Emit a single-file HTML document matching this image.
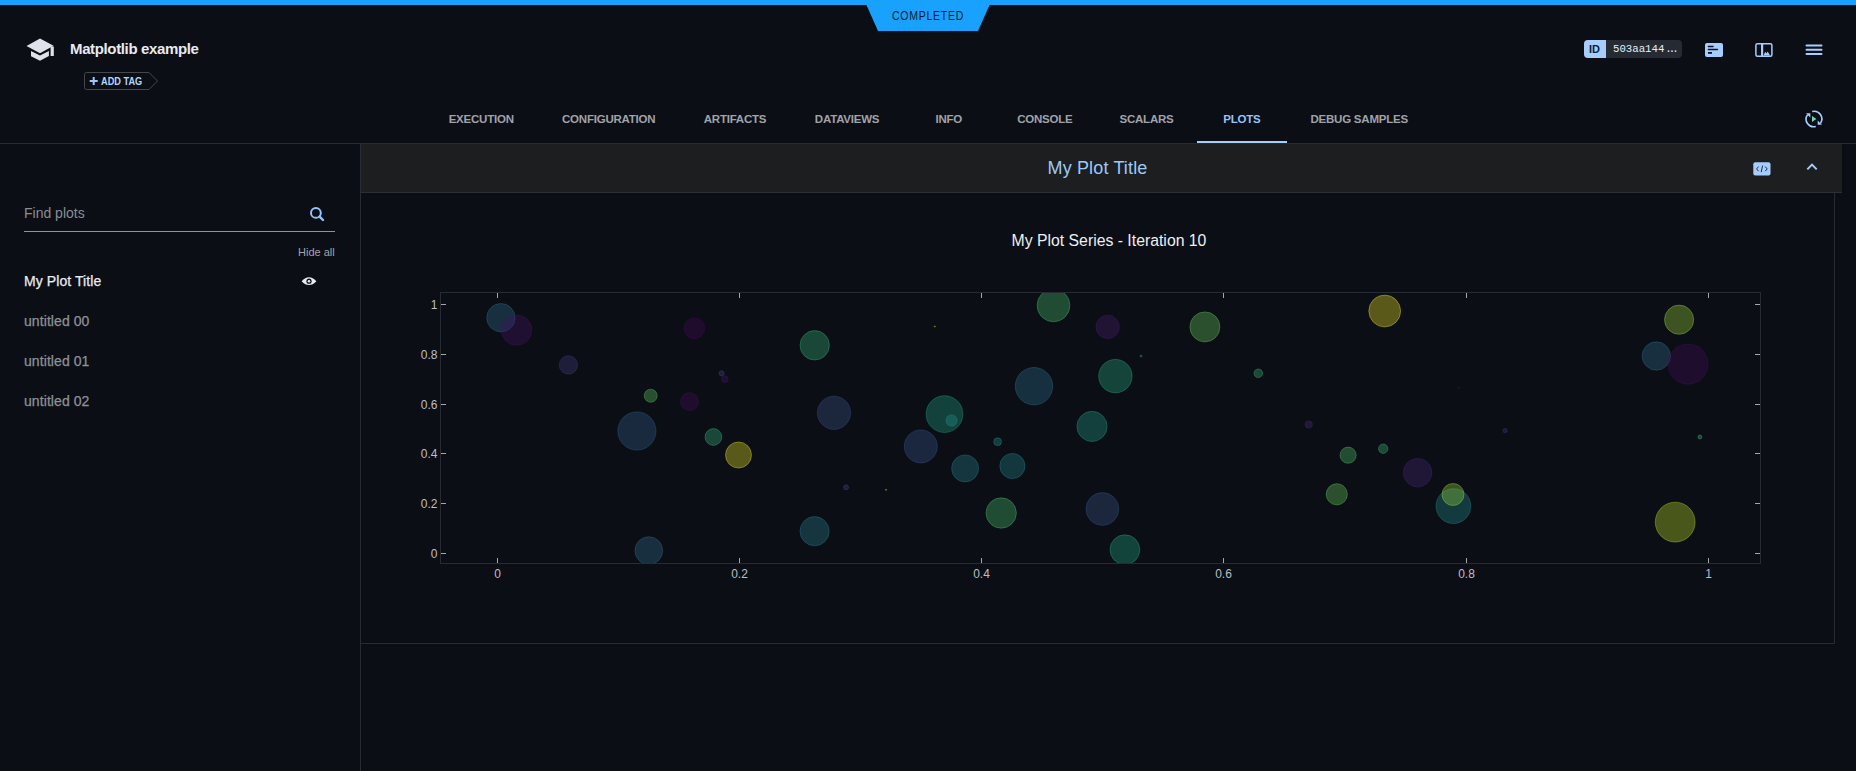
<!DOCTYPE html>
<html><head><meta charset="utf-8"><title>Matplotlib example</title>
<style>
*{box-sizing:border-box;margin:0;padding:0}
html,body{width:1856px;height:771px;overflow:hidden;background:#0b0e15;font-family:"Liberation Sans",sans-serif;color:#e6e7ea}
.abs{position:absolute}
#topbar{left:0;top:0;width:1856px;height:5px;background:#19a2fd}
#badge{left:866px;top:4px;width:124px;height:27px;background:#19a2fd;clip-path:polygon(0 0,100% 0,90.3% 100%,9.7% 100%)}
#badge span{position:absolute;left:0;width:124px;top:5px;text-align:center;font-size:12px;line-height:14px;color:#0c1a2c;letter-spacing:0.8px;transform:scaleX(0.88)}
#title{left:70px;top:40px;font-size:15px;letter-spacing:-0.36px;font-weight:bold;color:#e9eaef;line-height:18px;white-space:nowrap}
#addtag{left:84px;top:72px}
#addtag span{position:absolute;left:17px;top:4px;font-size:10px;font-weight:bold;color:#b4d4fa;line-height:12px;white-space:nowrap;transform:scaleX(0.92);transform-origin:0 0}
#idb{left:1584px;top:40px;width:98px;height:18px;border-radius:4px;background:#262a33;overflow:hidden}
#idb .l{position:absolute;left:0;top:0;width:22px;height:18px;background:#a6cdfd}
#idb .l span{position:absolute;left:5px;top:4px;font-size:11px;font-weight:bold;color:#0a2140;line-height:11px}
#idb .r{position:absolute;left:29px;top:3px;font-family:"Liberation Mono",monospace;font-size:10.7px;color:#eceef2;line-height:12px;white-space:nowrap}
.tab{position:absolute;top:112.6px;width:200px;text-align:center;font-size:11.5px;letter-spacing:-0.22px;font-weight:bold;color:#a0a3a8;line-height:13px;white-space:nowrap}
.tab.act{color:#95c4fb}
#uline{left:1197px;top:141px;width:90px;height:2px;background:#a5cef8}
#hline{left:0;top:143px;width:1856px;height:1px;background:#272b33}
#side{left:360px;top:144px;width:1px;height:627px;background:#272b33}
#find{left:24px;top:205px;font-size:14px;color:#8a8d93;line-height:16px}
#findline{left:24px;top:231px;width:311px;height:1px;background:#8f9298}
#hideall{left:298px;top:246px;font-size:11px;color:#a3a6ab;line-height:13px}
.item{position:absolute;left:24px;font-size:14px;color:#8e9196;line-height:16px;white-space:nowrap;-webkit-text-stroke:0.25px currentColor;letter-spacing:0.08px}
.item.act{color:#eaebee}
#phead{left:361px;top:144px;width:1481px;height:48px;background:#1d1e20}
#pheadb{left:361px;top:192px;width:1481px;height:1px;background:#2b2f37}
#ptitle{left:1047.5px;top:158px;font-size:18px;letter-spacing:0.15px;color:#9cc8fb;line-height:21px;white-space:nowrap}
#pbr{left:1834px;top:193px;width:1px;height:451px;background:#272b33}
#pbb{left:361px;top:643px;width:1474px;height:1px;background:#272b33}
#series{left:1011.5px;top:231.7px;font-size:15.8px;color:#eef0f3;line-height:18px;white-space:nowrap}
svg text{font-family:"Liberation Sans",sans-serif;font-size:12px;fill:#bcbfc4}
</style></head><body>
<div class="abs" id="topbar"></div>
<div class="abs" id="badge"><span>COMPLETED</span></div>

<svg class="abs" style="left:0;top:0" width="70" height="70" viewBox="0 0 70 70">
<polygon points="26.5,45.9 40,38.5 53.6,45.7 40,53.2" fill="#dfe1eb"/>
<rect x="50.6" y="46.5" width="3.2" height="9.5" fill="#dfe1eb"/>
<polygon points="31,51 40,55.6 48.9,51 48.9,56 40,60.8 31,56.2" fill="#dfe1eb"/>
</svg>
<div class="abs" id="title">Matplotlib example</div>
<div class="abs" id="addtag">
<svg width="76" height="19" viewBox="0 0 76 19" style="position:absolute;left:0;top:0">
<path d="M2.5 0.5 H65 L73.5 9 L65 17.5 H2.5 Q0.5 17.5 0.5 15.5 V2.5 Q0.5 0.5 2.5 0.5 Z" fill="none" stroke="#44474e" stroke-width="1"/>
<path d="M9.7 5 V13 M5.7 9 H13.7" stroke="#9cc6fb" stroke-width="2"/>
</svg>
<span>ADD TAG</span>
</div>

<div class="abs" id="idb"><div class="l"><span>ID</span></div><div class="r">503aa144<span style="letter-spacing:-3px;margin-left:1px">...</span></div></div>
<!-- icon 1 -->
<svg class="abs" style="left:1700px;top:38px" width="130" height="24" viewBox="0 0 130 24">
<rect x="5" y="5" width="18" height="14" rx="2" fill="#a6cdfd"/>
<path d="M8.4 8.4 H13 M8.4 11.6 H17.4" stroke="#0b1526" stroke-width="1.5" stroke-linecap="round"/><path d="M8 14.9 H12" stroke="#0b1526" stroke-width="1.8"/>
<rect x="55.9" y="5.7" width="16" height="12.6" rx="1.5" fill="none" stroke="#a6cdfd" stroke-width="1.5"/>
<rect x="61" y="6" width="2.2" height="12" fill="#a6cdfd"/>
<path d="M63.5 17.6 L65.2 13.8 L66.5 15.5 L67.6 13.6 L70.2 17.6 Z" fill="#a6cdfd"/>
<path d="M106.5 7.4 H121.5 M106.5 11.8 H121.5 M106.5 16.1 H121.5" stroke="#a6cdfd" stroke-width="2" stroke-linecap="round"/>
</svg>
<!-- refresh icon -->
<svg class="abs" style="left:1800px;top:105px" width="28" height="28" viewBox="0 0 28 28">
<path d="M12.2 6.6 A7.6 7.6 0 0 1 20.5 18.2" fill="none" stroke="#a6cdfd" stroke-width="1.6"/>
<path d="M15.8 21.4 A7.6 7.6 0 0 1 7.6 9.6" fill="none" stroke="#a6cdfd" stroke-width="1.6"/>
<path d="M6 8.2 L10.3 8.2 L10.3 12.5 Z" fill="#a6cdfd"/>
<path d="M22 19.8 L17.7 19.8 L17.7 15.5 Z" fill="#a6cdfd"/>
<path d="M12 11 L16.4 14 L12 17 Z" fill="#6fd4b3"/>
</svg>

<div class="tab" style="left:381.2px">EXECUTION</div>
<div class="tab" style="left:508.7px">CONFIGURATION</div>
<div class="tab" style="left:635.0px">ARTIFACTS</div>
<div class="tab" style="left:747.1px">DATAVIEWS</div>
<div class="tab" style="left:848.8px">INFO</div>
<div class="tab" style="left:944.8px">CONSOLE</div>
<div class="tab" style="left:1046.5px">SCALARS</div>
<div class="tab act" style="left:1141.9px">PLOTS</div>
<div class="tab" style="left:1259.2px">DEBUG SAMPLES</div>
<div class="abs" id="uline"></div>
<div class="abs" id="hline"></div>
<div class="abs" id="side"></div>

<div class="abs" id="find">Find plots</div>
<svg class="abs" style="left:308px;top:205px" width="20" height="20" viewBox="0 0 20 20">
<circle cx="7.9" cy="7.9" r="4.9" fill="none" stroke="#94c4fc" stroke-width="2"/>
<path d="M11.6 11.6 L15 15" stroke="#94c4fc" stroke-width="2.4" stroke-linecap="round"/>
</svg>
<div class="abs" id="findline"></div>
<div class="abs" id="hideall">Hide all</div>
<div class="item act" style="top:273px">My Plot Title</div>
<svg class="abs" style="left:300px;top:274px" width="18" height="14" viewBox="0 0 18 14">
<path d="M1.6 7.2 Q9 -0.5 16.4 7.2 Q9 14.9 1.6 7.2 Z" fill="#e9eaee"/>
<circle cx="9" cy="7.2" r="2.6" fill="#0b0e15"/>
<circle cx="9" cy="7.2" r="1.3" fill="#e9eaee"/>
</svg>
<div class="item" style="top:313px">untitled 00</div>
<div class="item" style="top:353px">untitled 01</div>
<div class="item" style="top:393px">untitled 02</div>

<div class="abs" id="phead"></div>
<div class="abs" id="pheadb"></div>
<div class="abs" id="ptitle">My Plot Title</div>
<svg class="abs" style="left:1740px;top:150px" width="100" height="40" viewBox="0 0 100 40">
<rect x="13.3" y="12.2" width="17.2" height="13.4" rx="2" fill="#a6cdfd"/>
<path d="M18.6 16.6 L16.6 18.9 L18.6 21.2 M25.2 16.6 L27.2 18.9 L25.2 21.2 M22.6 15.6 L21.2 22.2" fill="none" stroke="#1e2a44" stroke-width="1"/>
<path d="M67.3 19.4 L72 14.6 L76.7 19.4" fill="none" stroke="#a6cdfd" stroke-width="2"/>
</svg>
<div class="abs" id="pbr"></div>
<div class="abs" id="pbb"></div>
<div class="abs" id="series">My Plot Series - Iteration 10</div>

<svg class="abs" style="left:0;top:0" width="1856" height="771" viewBox="0 0 1856 771">
<defs><clipPath id="pc"><rect x="441" y="293" width="1319" height="270"/></clipPath></defs>
<rect x="440.5" y="292.5" width="1320" height="271" fill="none" stroke="#272b33" stroke-width="1"/>
<line x1="497.5" y1="293" x2="497.5" y2="298" stroke="#a3a6ad"/>
<line x1="497.5" y1="558" x2="497.5" y2="563" stroke="#a3a6ad"/>
<text x="497.5" y="578" text-anchor="middle">0</text>
<line x1="739.5" y1="293" x2="739.5" y2="298" stroke="#a3a6ad"/>
<line x1="739.5" y1="558" x2="739.5" y2="563" stroke="#a3a6ad"/>
<text x="739.5" y="578" text-anchor="middle">0.2</text>
<line x1="981.5" y1="293" x2="981.5" y2="298" stroke="#a3a6ad"/>
<line x1="981.5" y1="558" x2="981.5" y2="563" stroke="#a3a6ad"/>
<text x="981.5" y="578" text-anchor="middle">0.4</text>
<line x1="1223.5" y1="293" x2="1223.5" y2="298" stroke="#a3a6ad"/>
<line x1="1223.5" y1="558" x2="1223.5" y2="563" stroke="#a3a6ad"/>
<text x="1223.5" y="578" text-anchor="middle">0.6</text>
<line x1="1466.5" y1="293" x2="1466.5" y2="298" stroke="#a3a6ad"/>
<line x1="1466.5" y1="558" x2="1466.5" y2="563" stroke="#a3a6ad"/>
<text x="1466.5" y="578" text-anchor="middle">0.8</text>
<line x1="1708.5" y1="293" x2="1708.5" y2="298" stroke="#a3a6ad"/>
<line x1="1708.5" y1="558" x2="1708.5" y2="563" stroke="#a3a6ad"/>
<text x="1708.5" y="578" text-anchor="middle">1</text>
<line x1="441" y1="553.5" x2="446" y2="553.5" stroke="#a3a6ad"/>
<line x1="1755" y1="553.5" x2="1760" y2="553.5" stroke="#a3a6ad"/>
<text x="437.5" y="557.8" text-anchor="end">0</text>
<line x1="441" y1="503.5" x2="446" y2="503.5" stroke="#a3a6ad"/>
<line x1="1755" y1="503.5" x2="1760" y2="503.5" stroke="#a3a6ad"/>
<text x="437.5" y="507.8" text-anchor="end">0.2</text>
<line x1="441" y1="453.5" x2="446" y2="453.5" stroke="#a3a6ad"/>
<line x1="1755" y1="453.5" x2="1760" y2="453.5" stroke="#a3a6ad"/>
<text x="437.5" y="457.8" text-anchor="end">0.4</text>
<line x1="441" y1="404.5" x2="446" y2="404.5" stroke="#a3a6ad"/>
<line x1="1755" y1="404.5" x2="1760" y2="404.5" stroke="#a3a6ad"/>
<text x="437.5" y="408.8" text-anchor="end">0.6</text>
<line x1="441" y1="354.5" x2="446" y2="354.5" stroke="#a3a6ad"/>
<line x1="1755" y1="354.5" x2="1760" y2="354.5" stroke="#a3a6ad"/>
<text x="437.5" y="358.8" text-anchor="end">0.8</text>
<line x1="441" y1="304.5" x2="446" y2="304.5" stroke="#a3a6ad"/>
<line x1="1755" y1="304.5" x2="1760" y2="304.5" stroke="#a3a6ad"/>
<text x="437.5" y="308.8" text-anchor="end">1</text>
<g clip-path="url(#pc)">
<circle cx="500.9" cy="317.7" r="14.2" fill="#306c8e" fill-opacity="0.35" stroke="#306c8e" stroke-opacity="0.38" stroke-width="1"/>
<circle cx="516.6" cy="330.1" r="15.2" fill="#461264" fill-opacity="0.35" stroke="#461264" stroke-opacity="0.38" stroke-width="1"/>
<circle cx="568.4" cy="364.9" r="9.2" fill="#433a82" fill-opacity="0.35" stroke="#433a82" stroke-opacity="0.38" stroke-width="1"/>
<circle cx="650.7" cy="395.7" r="6.5" fill="#5fc860" fill-opacity="0.35" stroke="#5fc860" stroke-opacity="0.38" stroke-width="1"/>
<circle cx="636.9" cy="431.0" r="19.1" fill="#355f8d" fill-opacity="0.35" stroke="#355f8d" stroke-opacity="0.38" stroke-width="1"/>
<circle cx="648.8" cy="550.6" r="13.9" fill="#306c8e" fill-opacity="0.35" stroke="#306c8e" stroke-opacity="0.38" stroke-width="1"/>
<circle cx="694.4" cy="328.3" r="10.4" fill="#45085b" fill-opacity="0.35" stroke="#45085b" stroke-opacity="0.38" stroke-width="1"/>
<circle cx="814.7" cy="345.3" r="14.7" fill="#33b47a" fill-opacity="0.35" stroke="#33b47a" stroke-opacity="0.38" stroke-width="1"/>
<circle cx="721.6" cy="373.3" r="2.6" fill="#414487" fill-opacity="0.35" stroke="#414487" stroke-opacity="0.38" stroke-width="1"/>
<circle cx="724.8" cy="379.2" r="3.4" fill="#461264" fill-opacity="0.35" stroke="#461264" stroke-opacity="0.38" stroke-width="1"/>
<circle cx="689.5" cy="401.6" r="9.0" fill="#450c5e" fill-opacity="0.35" stroke="#450c5e" stroke-opacity="0.38" stroke-width="1"/>
<circle cx="834.0" cy="412.8" r="16.6" fill="#3b528a" fill-opacity="0.35" stroke="#3b528a" stroke-opacity="0.38" stroke-width="1"/>
<circle cx="713.4" cy="437.0" r="8.4" fill="#33b47a" fill-opacity="0.35" stroke="#33b47a" stroke-opacity="0.38" stroke-width="1"/>
<circle cx="738.5" cy="455.0" r="13.0" fill="#eae525" fill-opacity="0.35" stroke="#eae525" stroke-opacity="0.38" stroke-width="1"/>
<circle cx="846.1" cy="487.3" r="2.5" fill="#3f4988" fill-opacity="0.35" stroke="#3f4988" stroke-opacity="0.38" stroke-width="1"/>
<circle cx="814.6" cy="531.2" r="14.6" fill="#287d8e" fill-opacity="0.35" stroke="#287d8e" stroke-opacity="0.38" stroke-width="1"/>
<circle cx="1053.5" cy="305.4" r="16.4" fill="#49c16d" fill-opacity="0.35" stroke="#49c16d" stroke-opacity="0.38" stroke-width="1"/>
<circle cx="934.8" cy="326.5" r="0.6" fill="#bddf26" fill-opacity="0.35" stroke="#bddf26" stroke-opacity="0.38" stroke-width="1"/>
<circle cx="1034.0" cy="386.2" r="18.7" fill="#2d708e" fill-opacity="0.35" stroke="#2d708e" stroke-opacity="0.38" stroke-width="1"/>
<circle cx="944.5" cy="414.1" r="18.4" fill="#22a186" fill-opacity="0.35" stroke="#22a186" stroke-opacity="0.38" stroke-width="1"/>
<circle cx="951.5" cy="420.5" r="5.6" fill="#21918c" fill-opacity="0.35" stroke="#21918c" stroke-opacity="0.38" stroke-width="1"/>
<circle cx="920.8" cy="446.4" r="16.5" fill="#39578b" fill-opacity="0.35" stroke="#39578b" stroke-opacity="0.38" stroke-width="1"/>
<circle cx="997.6" cy="441.7" r="3.9" fill="#21918c" fill-opacity="0.35" stroke="#21918c" stroke-opacity="0.38" stroke-width="1"/>
<circle cx="965.1" cy="468.4" r="13.5" fill="#287d8e" fill-opacity="0.35" stroke="#287d8e" stroke-opacity="0.38" stroke-width="1"/>
<circle cx="1012.4" cy="466.0" r="12.6" fill="#26848d" fill-opacity="0.35" stroke="#26848d" stroke-opacity="0.38" stroke-width="1"/>
<circle cx="886.0" cy="489.8" r="0.6" fill="#bddf26" fill-opacity="0.35" stroke="#bddf26" stroke-opacity="0.38" stroke-width="1"/>
<circle cx="1001.2" cy="513.0" r="15.2" fill="#49c16d" fill-opacity="0.35" stroke="#49c16d" stroke-opacity="0.38" stroke-width="1"/>
<circle cx="1107.7" cy="326.9" r="11.7" fill="#471d6e" fill-opacity="0.35" stroke="#471d6e" stroke-opacity="0.38" stroke-width="1"/>
<circle cx="1204.9" cy="326.9" r="15.0" fill="#64ca5d" fill-opacity="0.35" stroke="#64ca5d" stroke-opacity="0.38" stroke-width="1"/>
<circle cx="1141.0" cy="356.1" r="1.0" fill="#229c88" fill-opacity="0.35" stroke="#229c88" stroke-opacity="0.38" stroke-width="1"/>
<circle cx="1115.4" cy="376.1" r="16.7" fill="#29ad80" fill-opacity="0.35" stroke="#29ad80" stroke-opacity="0.38" stroke-width="1"/>
<circle cx="1258.3" cy="373.3" r="4.3" fill="#36b678" fill-opacity="0.35" stroke="#36b678" stroke-opacity="0.38" stroke-width="1"/>
<circle cx="1092.0" cy="426.4" r="15.1" fill="#229c88" fill-opacity="0.35" stroke="#229c88" stroke-opacity="0.38" stroke-width="1"/>
<circle cx="1102.4" cy="509.0" r="16.4" fill="#3b528a" fill-opacity="0.35" stroke="#3b528a" stroke-opacity="0.38" stroke-width="1"/>
<circle cx="1124.9" cy="549.7" r="14.9" fill="#22a884" fill-opacity="0.35" stroke="#22a884" stroke-opacity="0.38" stroke-width="1"/>
<circle cx="1384.7" cy="311.0" r="15.9" fill="#f0e525" fill-opacity="0.35" stroke="#f0e525" stroke-opacity="0.38" stroke-width="1"/>
<circle cx="1458.8" cy="387.6" r="0.8" fill="#461264" fill-opacity="0.35" stroke="#461264" stroke-opacity="0.38" stroke-width="1"/>
<circle cx="1308.8" cy="424.5" r="3.6" fill="#472a79" fill-opacity="0.35" stroke="#472a79" stroke-opacity="0.38" stroke-width="1"/>
<circle cx="1505.1" cy="430.6" r="2.2" fill="#44347e" fill-opacity="0.35" stroke="#44347e" stroke-opacity="0.38" stroke-width="1"/>
<circle cx="1348.1" cy="455.2" r="8.1" fill="#4fc36a" fill-opacity="0.35" stroke="#4fc36a" stroke-opacity="0.38" stroke-width="1"/>
<circle cx="1383.2" cy="448.7" r="4.7" fill="#3dba74" fill-opacity="0.35" stroke="#3dba74" stroke-opacity="0.38" stroke-width="1"/>
<circle cx="1417.6" cy="472.7" r="14.3" fill="#482475" fill-opacity="0.35" stroke="#482475" stroke-opacity="0.38" stroke-width="1"/>
<circle cx="1336.8" cy="494.3" r="10.6" fill="#64ca5d" fill-opacity="0.35" stroke="#64ca5d" stroke-opacity="0.38" stroke-width="1"/>
<circle cx="1453.4" cy="506.1" r="17.4" fill="#238c8c" fill-opacity="0.35" stroke="#238c8c" stroke-opacity="0.38" stroke-width="1"/>
<circle cx="1453.0" cy="494.5" r="11.0" fill="#9bd83c" fill-opacity="0.35" stroke="#9bd83c" stroke-opacity="0.38" stroke-width="1"/>
<circle cx="1679.1" cy="319.7" r="14.6" fill="#9bd83c" fill-opacity="0.35" stroke="#9bd83c" stroke-opacity="0.38" stroke-width="1"/>
<circle cx="1656.3" cy="356.0" r="14.2" fill="#306c8e" fill-opacity="0.35" stroke="#306c8e" stroke-opacity="0.38" stroke-width="1"/>
<circle cx="1688.0" cy="364.1" r="20.1" fill="#450c5e" fill-opacity="0.35" stroke="#450c5e" stroke-opacity="0.38" stroke-width="1"/>
<circle cx="1699.9" cy="437.0" r="2.0" fill="#3dba74" fill-opacity="0.35" stroke="#3dba74" stroke-opacity="0.38" stroke-width="1"/>
<circle cx="1675.2" cy="522.1" r="19.9" fill="#bddf26" fill-opacity="0.35" stroke="#bddf26" stroke-opacity="0.38" stroke-width="1"/>
</g>
</svg>
</body></html>
